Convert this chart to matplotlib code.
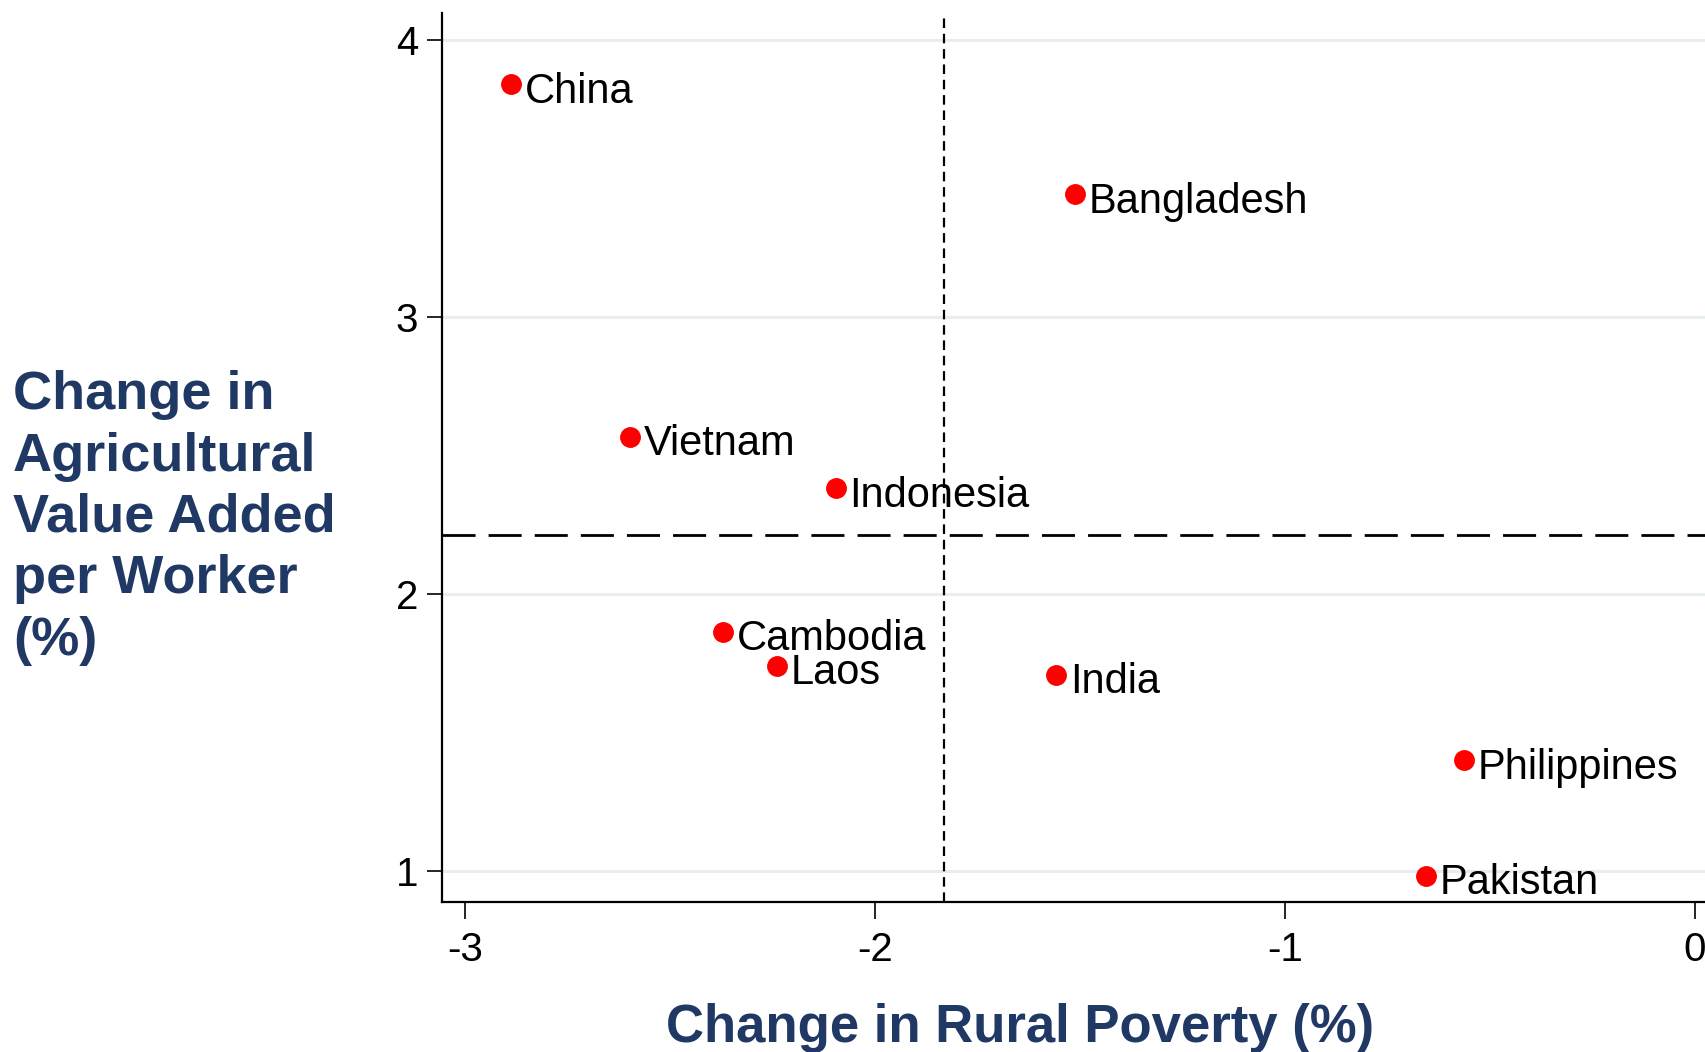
import matplotlib
matplotlib.use('Agg')
import matplotlib.pyplot as plt
import numpy as np

# country data
countries = ['China', 'Bangladesh', 'Vietnam', 'Indonesia', 'Cambodia',
             'Laos', 'India', 'Philippines', 'Pakistan']
rural_poverty = [-2.888, -1.513, -2.598, -2.096, -2.370, -2.239, -1.559, -0.564, -0.657]
ag_value_added = [3.839, 3.442, 2.566, 2.381, 1.862, 1.741, 1.709, 1.399, 0.982]

xticks = [-3, -2, -1, 0]
yticks = [1, 2, 3, 4]

navy = '#1F3864'
fam = ['Liberation Sans', 'DejaVu Sans']

plt.rcParams['axes.unicode_minus'] = False

W, H = 1706, 1052
fig = plt.figure(figsize=(W / 100, H / 100), dpi=100)

# axes placed in pixel coords; right edge runs past the canvas like the crop
x0, x1 = -3.056, 0.3
px_per_unit = 410
ax_left, ax_bottom, ax_top = 442, 150, 1039
ax = fig.add_axes([ax_left / W, ax_bottom / H,
                   (x1 - x0) * px_per_unit / W, (ax_top - ax_bottom) / H])
ax.set_xlim(x0, x1)
ax.set_ylim(0.888, 4.097)

ax.set_xticks(xticks)
ax.set_yticks(yticks)
ax.set_xticklabels([str(t) for t in xticks], family=fam, fontsize=29)
ax.set_yticklabels([str(t) for t in yticks], family=fam, fontsize=29)
ax.tick_params(axis='x', length=12, width=1.2, pad=9)
ax.tick_params(axis='y', length=11, width=1.2, pad=6)

ax.spines['top'].set_visible(False)
ax.spines['right'].set_visible(False)
for s in ['left', 'bottom']:
    ax.spines[s].set_linewidth(1.6)

ax.grid(axis='y', color='#e8eef0', lw=2.2)
ax.set_axisbelow(True)

# mean lines
ax.axvline(np.mean(rural_poverty), color='black', lw=1.6, ls=(0, (4.3, 2.6)), zorder=2)
ax.axhline(np.mean(ag_value_added), color='black', lw=2.0, ls=(0, (11.9, 4.7)), zorder=2)

ax.plot(rural_poverty, ag_value_added, 'o', color='#ff0000', markersize=14, zorder=3)
for name, xv, yv in zip(countries, rural_poverty, ag_value_added):
    ax.annotate(name, (xv, yv), xytext=(10, -2), textcoords='offset points',
                va='center_baseline', ha='left', fontsize=30, family=fam, zorder=4)

fig.text(13 / W, 1 - 518 / H,
         'Change in\nAgricultural\nValue Added\nper Worker\n(%)',
         ha='left', va='center', fontsize=39, fontweight='bold', color=navy,
         family=fam, linespacing=1.29)
fig.text(1020 / W, 10 / H, 'Change in Rural Poverty (%)', ha='center', va='baseline',
         fontsize=38, fontweight='bold', color=navy, family=fam)

fig.savefig('out.png', dpi=100)
